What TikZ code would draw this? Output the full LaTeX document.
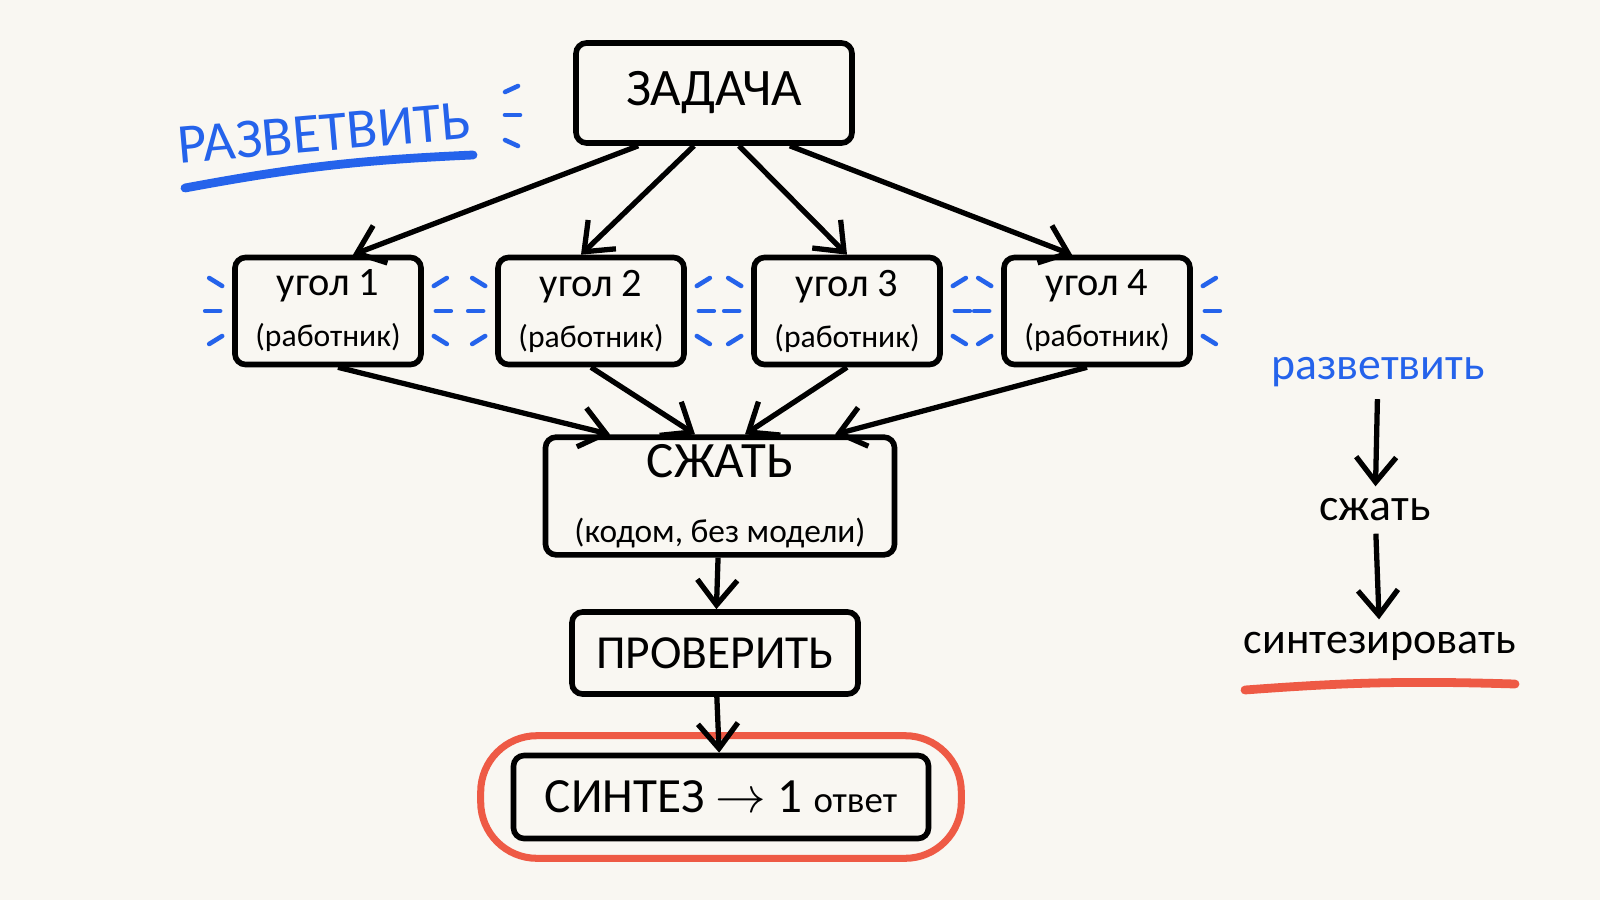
\documentclass[tikz,border=0pt]{standalone}
\usepackage{fontspec}
\setmainfont{Carlito}
\usetikzlibrary{arrows.meta,positioning,fit}
\definecolor{paper}{HTML}{F9F7F2}
\definecolor{inkblue}{HTML}{2563EB}
\definecolor{inkred}{HTML}{EE5A45}
\newcommand{\fs}[1]{\fontsize{#1}{#1}\selectfont}
\begin{document}
\begin{tikzpicture}[font=\rmfamily]
    % Define styles
    \tikzset{
        box/.style={rectangle, rounded corners=3pt, draw, line width=1.6pt, fill=paper, align=center, inner sep=2pt},
        corner/.style={box, minimum width=1.86cm, minimum height=1.07cm, font=\fs{11.5}},
        arrow/.style={-{Straight Barb[length=2.5mm,width=4mm]}, line width=1.5pt},
        spark/.style={inkblue, line width=1.3pt, line cap=round},
    }
    \fill[paper] (0,0) rectangle (16,9);
    \useasboundingbox (0,0) rectangle (16,9);

    % Main flow
    \node[box, minimum width=2.76cm, minimum height=1cm, font=\fs{15}] (task) at (7.14,8.07) {ЗАДАЧА};
    \node[corner] (c1) at (3.28,5.89) {угол 1\\[3pt]{\fs{9}(работник)}};
    \node[corner] (c2) at (5.91,5.89) {угол 2\\[3pt]{\fs{9}(работник)}};
    \node[corner] (c3) at (8.47,5.89) {угол 3\\[3pt]{\fs{9}(работник)}};
    \node[corner] (c4) at (10.97,5.89) {угол 4\\[3pt]{\fs{9}(работник)}};
    \node[box, minimum width=3.49cm, minimum height=1.11cm, font=\fs{14.5}] (squeeze) at (7.20,4.04) {СЖАТЬ\\[4pt]{\fs{9.5}(кодом, без модели)}};
    \node[box, minimum width=2.86cm, minimum height=0.82cm, font=\fs{13.5}] (check) at (7.15,2.47) {ПРОВЕРИТЬ};
    \node[box, minimum width=4.15cm, minimum height=0.83cm, font=\fs{14}] (synth) at (7.21,1.03) {СИНТЕЗ $\rightarrow$ 1 {\fs{10.5}ответ}};
    \node[draw=inkred, line width=2pt, rounded corners=16pt, fit=(synth), inner xsep=0.3cm, inner ysep=0.17cm] (ring) {};

    % Arrows
    \draw[arrow] (task.south west)++(0.65,0) -- ([xshift=0.25cm]c1.north);
    \draw[arrow] (task.south)++(-0.2,0) -- ([xshift=-0.1cm]c2.north);
    \draw[arrow] (task.south)++(0.25,0) -- (c3.north);
    \draw[arrow] (task.south east)++(-0.65,0) -- ([xshift=-0.25cm]c4.north);
    \draw[arrow] ([xshift=0.1cm]c1.south) -- ([xshift=-1.1cm]squeeze.north);
    \draw[arrow] (c2.south) -- ([xshift=-0.25cm]squeeze.north);
    \draw[arrow] (c3.south) -- ([xshift=0.25cm]squeeze.north);
    \draw[arrow] ([xshift=-0.1cm]c4.south) -- ([xshift=1.15cm]squeeze.north);
    \draw[arrow] (squeeze) -- (check);
    \draw[arrow] (check) -- (synth);

    % Sparks
    \foreach \c in {c1,c2,c3,c4}{
        \draw[spark] ([xshift=-0.12cm]\c.west) -- ++(-0.15,0);
        \draw[spark] ([shift={(-0.1,0.25)}]\c.west) -- ++(-0.13,0.08);
        \draw[spark] ([shift={(-0.1,-0.25)}]\c.west) -- ++(-0.13,-0.08);
        \draw[spark] ([xshift=0.12cm]\c.east) -- ++(0.15,0);
        \draw[spark] ([shift={(0.1,0.25)}]\c.east) -- ++(0.13,0.08);
        \draw[spark] ([shift={(0.1,-0.25)}]\c.east) -- ++(0.13,-0.08);
    }

    % Labels
    \node[inkblue, font=\fs{16}, rotate=5] (fan) at (3.24,7.67) {РАЗВЕТВИТЬ};
    \draw[inkblue, line width=2.5pt, line cap=round] (1.85,7.12) to[bend left=4] (4.73,7.45);
    \draw[spark] (5.05,8.08) -- ++(0.13,0.06);
    \draw[spark] (5.05,7.85) -- ++(0.15,0);
    \draw[spark] (5.05,7.6) -- ++(0.13,-0.06);

    \node[inkblue, font=\fs{13}] (fansmall) at (13.78,5.28) {разветвить};
    \node[font=\fs{13}] (squeezesmall) at (13.75,3.90) {сжать};
    \node[font=\fs{12.5}] (synthsmall) at (13.80,2.54) {синтезировать};
    \draw[arrow] (fansmall) -- (squeezesmall);
    \draw[arrow] (squeezesmall) -- (synthsmall);
    \draw[inkred, line width=2.5pt, line cap=round] (12.45,2.1) to[bend left=3] (15.15,2.16);
\end{tikzpicture}
\end{document}
